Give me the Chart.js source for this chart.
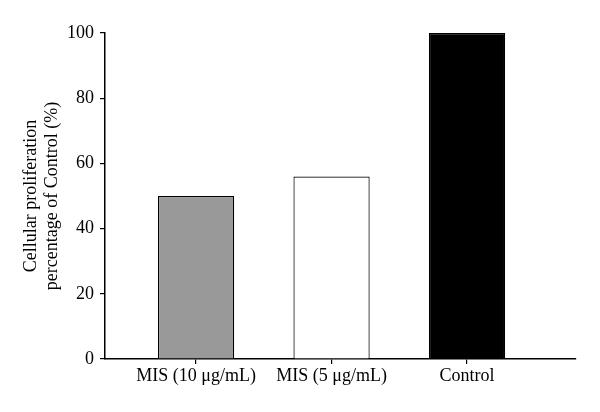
<!DOCTYPE html>
<html>
<head>
<meta charset="utf-8">
<script src="https://cdn.jsdelivr.net/npm/chart.js@4"></script>
<style>
  html, body { margin: 0; padding: 0; background: #fff; }
  #wrap { width: 600px; height: 412px; }
</style>
</head>
<body>
<div id="wrap"><canvas id="chart" width="600" height="412"></canvas></div>
<script>
const categories = ['MIS (10 \u03bcg/mL)', 'MIS (5 \u03bcg/mL)', 'Control'];
const values = [50, 56, 100];
const barColors = ['#999999', '#ffffff', '#000000'];
const yTicks = [0, 20, 40, 60, 80, 100];

const serif = '"Liberation Serif", "DejaVu Serif", serif';

const ctx = document.getElementById('chart').getContext('2d');
new Chart(ctx, {
    type: 'bar',
    data: {
        datasets: [{
            data: values.map((v, i) => ({ x: i + 1, y: v })),
            backgroundColor: barColors,
            borderColor: '#000',
            borderWidth: 1.2,
            borderSkipped: 'bottom',
            barPercentage: 0.75,
            categoryPercentage: 0.75
        }]
    },
    options: {
        responsive: false,
        animation: false,
        layout: { padding: { top: 33, right: 24, bottom: 0, left: 0 } },
        plugins: { legend: { display: false }, tooltip: { enabled: false } },
        scales: {
            x: {
                type: 'linear',
                offset: false,
                min: 0.328,
                max: 3.804,
                afterBuildTicks: (scale) => {
                    scale.ticks = categories.map((c, i) => ({ value: i + 1 }));
                },
                afterFit: (scale) => { scale.height = 53; },
                grid: { offset: false, drawOnChartArea: false, tickLength: 5, color: '#000', lineWidth: 1.2 },
                border: { color: '#000', width: 1.5 },
                ticks: {
                    color: '#000',
                    font: { family: serif, size: 18 },
                    padding: 1,
                    maxRotation: 0,
                    autoSkip: false,
                    callback: (v) => categories[Math.round(v) - 1] || ''
                }
            },
            y: {
                min: 0,
                max: 100,
                afterBuildTicks: (scale) => {
                    scale.ticks = yTicks.map(v => ({ value: v }));
                },
                afterFit: (scale) => { scale.width = 105; },
                grid: { drawOnChartArea: false, tickLength: 5, color: '#000', lineWidth: 1.2 },
                border: { color: '#000', width: 1.5 },
                ticks: {
                    color: '#000',
                    font: { family: serif, size: 18 },
                    padding: 6
                },
                title: {
                    display: true,
                    text: ['Cellular proliferation', 'percentage of Control (%)'],
                    color: '#000',
                    font: { family: serif, size: 18, lineHeight: 1.2 },
                    padding: { top: 20, bottom: 4 }
                }
            }
        }
    }
});
</script>
</body>
</html>
